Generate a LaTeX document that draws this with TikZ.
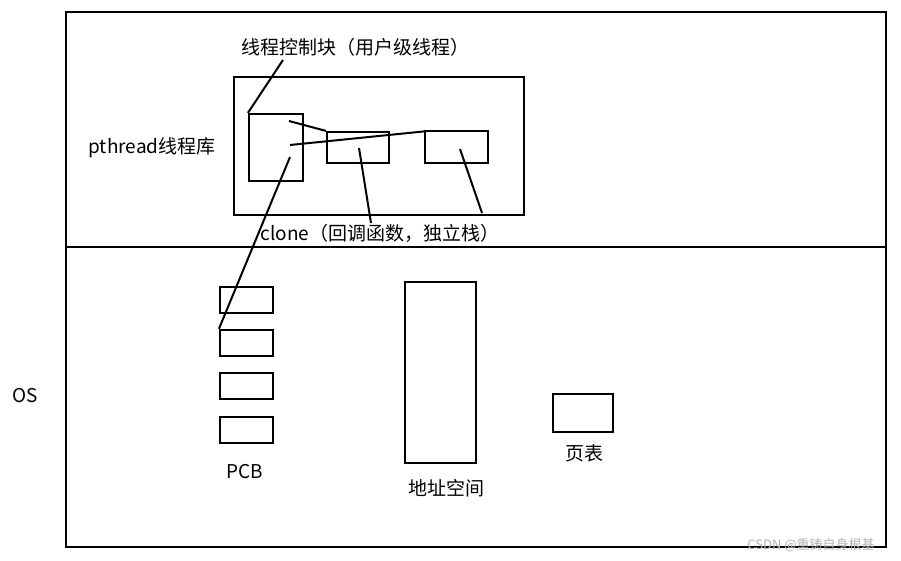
\documentclass[tikz,border=0pt]{standalone}
\usepackage{fontspec}
\setmainfont{Noto Sans CJK SC}
\begin{document}
\begin{tikzpicture}[x=1pt,y=-1pt,line width=2.2pt,
  bx/.style={draw,line width=2.2pt},
  ln/.style={line width=2pt},
  lbl/.style={font=\fontsize{19}{22}\selectfont,inner sep=0pt}]
\useasboundingbox[fill=white] (0,0) rectangle (901,561);
\draw (66,12) rectangle (886,547);
\draw (66,247) -- (886,247);
\draw (234,77) rectangle (524,215);
\node[bx,minimum width=54pt,minimum height=67pt,inner sep=0pt] (tcb) at (276,147.5) {};
\node[bx,minimum width=62pt,minimum height=31pt,inner sep=0pt] (cb) at (358,147.5) {};
\node[bx,minimum width=63pt,minimum height=32pt,inner sep=0pt] (st) at (456.5,147) {};
\foreach \y/\n in {300/p1,343/p2,386/p3,430/p4}
  \node[bx,minimum width=53pt,minimum height=26pt,inner sep=0pt] (\n) at (246.5,\y) {};
\node[bx,minimum width=71pt,minimum height=181pt,inner sep=0pt] (as) at (440.5,372.5) {};
\node[bx,minimum width=60pt,minimum height=38pt,inner sep=0pt] (pt) at (583,413) {};
\node[lbl] (l1) at (355,47) {线程控制块（用户级线程）};
\node[lbl] (l2) at (152,148) {pthread线程库};
\node[lbl] (l3) at (380,233) {clone（回调函数，独立栈）};
\node[lbl] (os) at (25,396) {OS};
\node[lbl] (pcb) at (245,472) {PCB};
\node[lbl] (asl) at (446,488) {地址空间};
\node[lbl] (ptl) at (584,453) {页表};
\node[font=\fontsize{13}{15}\selectfont,text=gray!60,inner sep=0pt] (wm) at (811,545) {CSDN @重铸自身根基};
\coordinate (a1) at (289,121); \coordinate (a2) at (290,145); \coordinate (a3) at (290,157);
\coordinate (c1) at (359,148); \coordinate (s1) at (460,149);
\draw[ln] (tcb.north west) -- (283,60);
\draw[ln] (a1) -- (cb.north west);
\draw[ln] (a2) -- (428,131);
\draw[ln] (a3) -- (p2.north west);
\draw[ln] (c1) -- (371,223);
\draw[ln] (s1) -- (482,213);
\end{tikzpicture}
\end{document}
